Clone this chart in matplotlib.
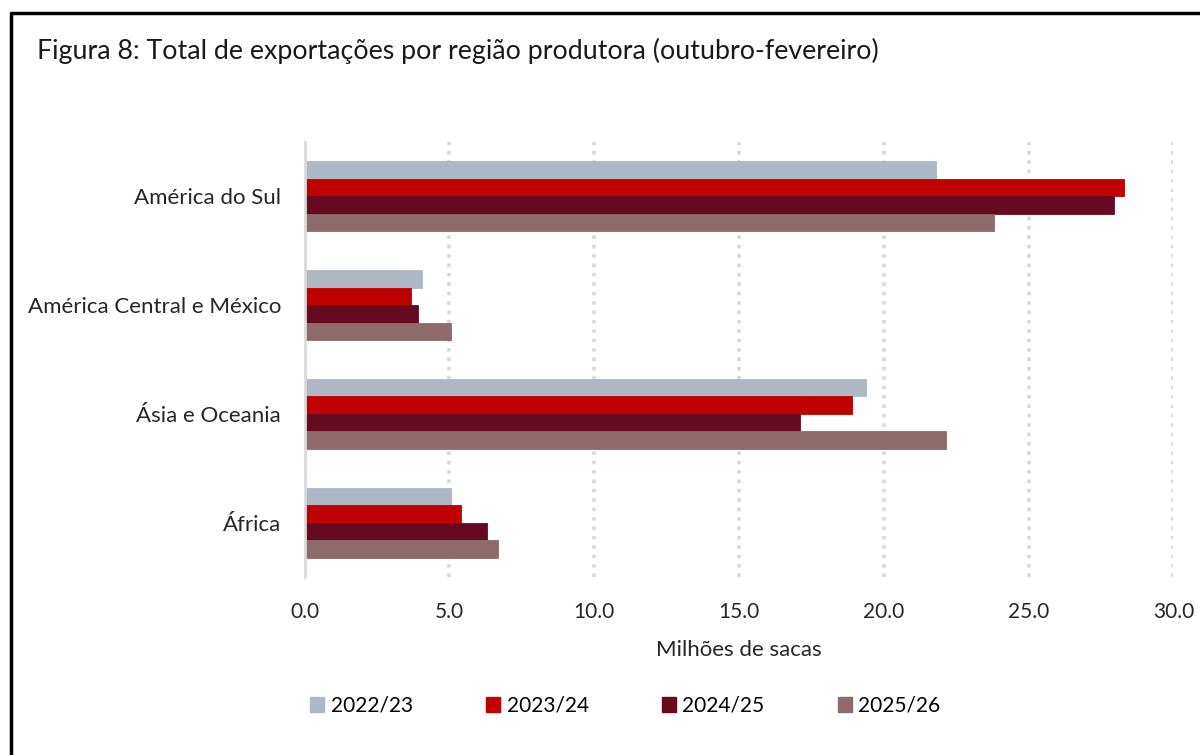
import matplotlib
matplotlib.use("Agg")
import matplotlib.pyplot as plt
from matplotlib.lines import Line2D
from matplotlib.patches import Patch
import numpy as np

regions = ["América do Sul", "América Central e México", "Ásia e Oceania", "África"]
seasons = ["2022/23", "2023/24", "2024/25", "2025/26"]
v_2022_23 = [21.8, 4.05, 19.4, 5.07]
v_2023_24 = [28.3, 3.68, 18.9, 5.4]
v_2024_25 = [27.95, 3.9, 17.1, 6.3]
v_2025_26 = [23.8, 5.07, 22.15, 6.68]
series = [v_2022_23, v_2023_24, v_2024_25, v_2025_26]
colors = ["#ADB8C4", "#C00000", "#660A22", "#8E6A6C"]

FONT = ["Lato", "DejaVu Sans"]

fig = plt.figure(figsize=(12, 7.55), dpi=100, facecolor="white")
ax = fig.add_axes([0.2538, 0.2358, 0.7241, 0.5762])

y = np.arange(len(regions))
h = 0.161
for i, (vals, c) in enumerate(zip(series, colors)):
    ax.barh(y + (i - 1.5) * h, vals, height=h, color=c, label=seasons[i],
            edgecolor=c, linewidth=0.6, zorder=3)

ax.set_xlim(0, 30)
ax.set_ylim(len(regions) - 0.5, -0.5)
ax.set_xticks(np.arange(0, 31, 5))
ax.set_xticklabels([f"{t:.1f}" for t in np.arange(0, 31, 5)], family=FONT, fontsize=15, color="#262626")
ax.set_yticks(y)
ax.set_yticklabels(regions, family=FONT, fontsize=16, color="#262626")
ax.tick_params(axis="x", length=0, pad=18)
ax.tick_params(axis="y", length=0, pad=17)
ax.grid(axis="x", linestyle=(0, (1, 1.6)), color="#D9D9D9", linewidth=2.6, zorder=0)
for s in ["top", "right", "bottom"]:
    ax.spines[s].set_visible(False)
ax.spines["left"].set_color("#D9D9D9")
ax.spines["left"].set_linewidth(2)
ax.spines["left"].set_zorder(4)

ax.set_xlabel("Milhões de sacas", family=FONT, fontsize=16, color="#262626", labelpad=13)

fig.text(0.031, 0.932, "Figura 8: Total de exportações por região produtora (outubro-fevereiro)",
         family=FONT, fontsize=19.3, color="#1a1a1a", va="center", ha="left")

handles = [Patch(facecolor=c, edgecolor=c) for c in colors]
fig.legend(handles, seasons, loc="center", bbox_to_anchor=(0.521, 0.065), ncol=4,
           frameon=False, prop={"family": FONT, "size": 15}, handlelength=0.7,
           handleheight=0.7, handletextpad=0.3, columnspacing=3.5)

# frame lines (top and left visible)
fig.add_artist(Line2D([10 / 1200, 1.0], [1 - 13 / 755, 1 - 13 / 755], color="black",
                      linewidth=2.5, solid_capstyle="butt"))
fig.add_artist(Line2D([11 / 1200, 11 / 1200], [0, 1 - 12 / 755], color="black",
                      linewidth=2.5, solid_capstyle="butt"))

fig.savefig("out.png", dpi=100, facecolor="white")
